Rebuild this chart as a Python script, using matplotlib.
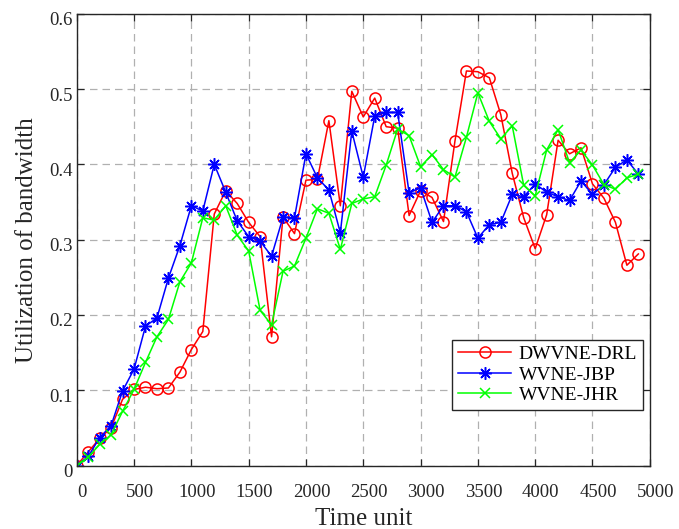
import numpy as np
import matplotlib
matplotlib.use("Agg")
import matplotlib.pyplot as plt
import matplotlib.transforms as mtransforms

# Bandwidth utilization sampled every 100 time units
time_unit = np.arange(0, 5000, 100)

dwvne_drl = [0.000, 0.018, 0.036, 0.050, 0.088, 0.101, 0.104, 0.102, 0.103, 0.124,
             0.154, 0.178, 0.334, 0.365, 0.348, 0.323, 0.304, 0.171, 0.330, 0.308,
             0.379, 0.380, 0.458, 0.345, 0.497, 0.463, 0.488, 0.450, 0.448, 0.332,
             0.365, 0.356, 0.324, 0.431, 0.524, 0.523, 0.515, 0.466, 0.388, 0.329,
             0.288, 0.333, 0.432, 0.414, 0.422, 0.374, 0.355, 0.323, 0.266, 0.281]

wvne_jbp = [0.000, 0.012, 0.037, 0.053, 0.099, 0.128, 0.185, 0.196, 0.249, 0.292,
            0.345, 0.338, 0.400, 0.363, 0.325, 0.304, 0.298, 0.278, 0.330, 0.329,
            0.414, 0.382, 0.366, 0.309, 0.444, 0.383, 0.464, 0.469, 0.469, 0.362,
            0.369, 0.323, 0.345, 0.345, 0.337, 0.302, 0.320, 0.323, 0.360, 0.357,
            0.374, 0.363, 0.357, 0.352, 0.378, 0.360, 0.373, 0.396, 0.406, 0.387]

wvne_jhr = [0.000, 0.011, 0.028, 0.041, 0.072, 0.101, 0.137, 0.171, 0.194, 0.244,
            0.269, 0.329, 0.326, 0.345, 0.306, 0.285, 0.206, 0.187, 0.258, 0.265,
            0.302, 0.341, 0.335, 0.287, 0.348, 0.354, 0.357, 0.399, 0.447, 0.438,
            0.397, 0.413, 0.393, 0.383, 0.436, 0.495, 0.457, 0.434, 0.451, 0.372,
            0.358, 0.419, 0.446, 0.402, 0.419, 0.399, 0.373, 0.367, 0.382, 0.387]

plt.rcParams['font.family'] = ['Liberation Serif', 'DejaVu Serif']
dark = '#262626'

fig = plt.figure(figsize=(6.79, 5.29), dpi=100)
ax = fig.add_axes([0.113, 0.12, 0.844, 0.854])

# MATLAB-style asterisk: 8 spokes
asterisk = (8, 2, 0)

ax.plot(time_unit, dwvne_drl, '-o', color=(1, 0, 0), lw=1.1, ms=8,
        mfc='none', mew=1.1, label='DWVNE-DRL')
ax.plot(time_unit, wvne_jbp, '-', marker=asterisk, color=(0, 0, 1), lw=1.1,
        ms=9, mew=1.1, label='WVNE-JBP')
ax.plot(time_unit, wvne_jhr, '-x', color=(0, 1, 0), lw=1.1, ms=7,
        mew=1.1, label='WVNE-JHR')

ax.set_xlim(0, 5000)
ax.set_ylim(0, 0.6)
ax.set_xticks(np.arange(0, 5001, 500))
ax.set_yticks(np.arange(0, 0.61, 0.1))
ax.set_yticklabels(['0', '0.1', '0.2', '0.3', '0.4', '0.5', '0.6'])

ax.grid(True, linestyle=(0, (6, 4)), color='#b0b0b0', lw=0.9)
ax.tick_params(direction='in', top=True, right=True, length=5, width=0.9,
               labelsize=13.5, colors=dark)
ax.tick_params(axis='x', pad=13)
ax.tick_params(axis='y', pad=3)
for s in ax.spines.values():
    s.set_color(dark)
    s.set_linewidth(1.0)

# nudge tick labels slightly right / down
dx = mtransforms.ScaledTranslation(0.055, 0, fig.dpi_scale_trans)
dy = mtransforms.ScaledTranslation(0, -0.05, fig.dpi_scale_trans)
for lbl in ax.get_xticklabels():
    lbl.set_transform(lbl.get_transform() + dx)
for lbl in ax.get_yticklabels():
    lbl.set_transform(lbl.get_transform() + dy)

ax.set_xlabel('Time unit', fontsize=18, color=dark, labelpad=5)
ax.set_ylabel('Utilization of bandwidth', fontsize=18, color=dark, labelpad=8)

leg = ax.legend(loc='lower right', bbox_to_anchor=(0.988, 0.123), fontsize=14,
                fancybox=False, framealpha=1, edgecolor=dark, handlelength=2.7,
                borderpad=0.3, labelspacing=0.15, handletextpad=0.4,
                borderaxespad=0)
leg.get_frame().set_linewidth(1.0)

fig.savefig('out.png', dpi=100)
